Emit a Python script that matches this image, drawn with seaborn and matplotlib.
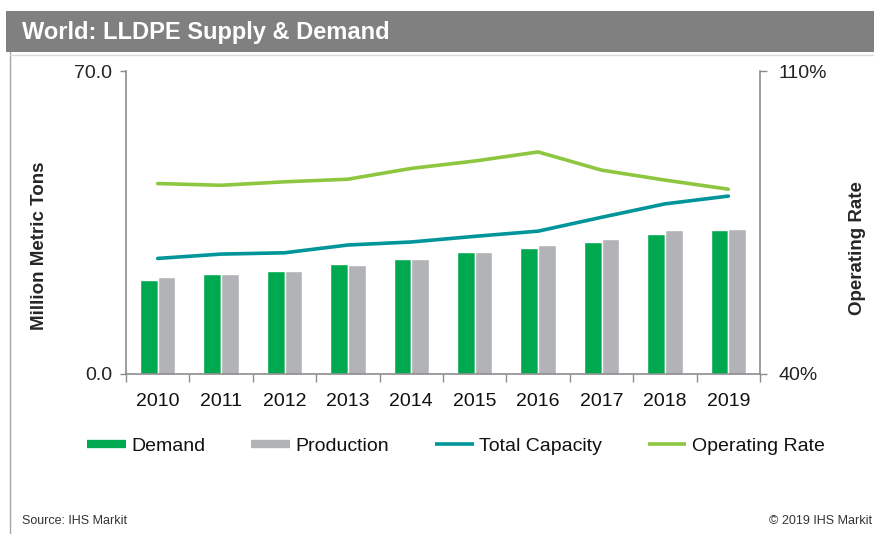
import numpy as np
import pandas as pd
import matplotlib
matplotlib.use("Agg")
import matplotlib.pyplot as plt
from matplotlib.patches import Rectangle
from matplotlib.lines import Line2D
import seaborn as sns

# Data
years = ["2010", "2011", "2012", "2013", "2014", "2015", "2016", "2017", "2018", "2019"]
demand = [21.7, 23.1, 23.7, 25.5, 26.5, 28.1, 29.2, 30.5, 32.3, 33.3]
production = [22.5, 23.1, 23.7, 25.1, 26.5, 28.1, 29.9, 31.2, 33.3, 33.6]
total_capacity = [26.7, 27.7, 28.0, 29.8, 30.5, 31.8, 33.0, 36.2, 39.3, 41.1]
operating_rate = [84.0, 83.6, 84.4, 85.0, 87.5, 89.2, 91.3, 87.1, 84.8, 82.7]

c_demand = "#00A84F"
c_prod = "#B2B3B6"
c_cap = "#00959A"
c_rate = "#8DC63F"
c_axis = "#8C8C8C"

sns.set_theme(style="white")
plt.rcParams["font.family"] = ["Liberation Sans", "DejaVu Sans"]

bars = pd.DataFrame({
    "Year": years * 2,
    "Value": demand + production,
    "Series": ["Demand"] * len(years) + ["Production"] * len(years),
})

fig = plt.figure(figsize=(8.74, 5.34), dpi=100)
ax = fig.add_axes([126 / 874, 1 - 374 / 534, (760 - 126) / 874, (374 - 71) / 534])

sns.barplot(data=bars, x="Year", y="Value", hue="Series", order=years,
            palette=[c_demand, c_prod], width=0.56, saturation=1,
            ax=ax, legend=False)
pos = np.arange(len(years))
sns.lineplot(x=pos, y=total_capacity, color=c_cap, linewidth=2.6, ax=ax)

ax2 = ax.twinx()
sns.lineplot(x=pos, y=operating_rate, color=c_rate, linewidth=2.6, ax=ax2)

ax.set_xlim(-0.5, len(years) - 0.5)
ax.set_ylim(0, 70)
ax2.set_ylim(40, 110)
ax.set_yticks([0, 70])
ax.set_yticklabels(["0.0", "70.0"])
ax2.set_yticks([40, 110])
ax2.set_yticklabels(["40%", "110%"])

ax.set_xticks(pos)
ax.set_xticklabels(years)
ax.set_xticks(np.arange(-0.5, len(years)), minor=True)
ax.tick_params(axis="x", which="major", length=0, pad=14, labelsize=14, colors="#111111")
ax.tick_params(axis="x", which="minor", length=6, width=1, color=c_axis, direction="out", bottom=True)
ax.tick_params(axis="y", length=4, width=1, color=c_axis, direction="out", left=True,
               labelsize=14, labelcolor="#222222", pad=6)
ax2.tick_params(axis="y", length=5, width=1, color=c_axis, direction="out", right=True,
                labelsize=14, labelcolor="#222222", pad=8)

ax.set_xlabel("")
ax.set_ylabel("Million Metric Tons", fontsize=13.5, fontweight="bold")
ax2.set_ylabel("Operating Rate", fontsize=13.5, fontweight="bold")
ax.yaxis.set_label_coords((40 - 126) / 634, (374 - 246) / 303)
ax2.yaxis.set_label_coords((857 - 126) / 634, (374 - 248) / 303)
for lab in (ax.yaxis.label, ax2.yaxis.label):
    lab.set_va("center")
    lab.set_ha("center")
    lab.set_rotation(90)

for a in (ax, ax2):
    a.spines["top"].set_visible(False)
    for s in ("left", "right", "bottom"):
        a.spines[s].set_color(c_axis)
        a.spines[s].set_linewidth(1.2)
ax.spines["right"].set_visible(False)
ax2.spines["left"].set_visible(False)
ax2.spines["bottom"].set_visible(False)
ax.grid(False)
ax2.grid(False)

# Legend
handles = [
    Line2D([0], [0], color=c_demand, linewidth=6, solid_capstyle="butt"),
    Line2D([0], [0], color=c_prod, linewidth=6, solid_capstyle="butt"),
    Line2D([0], [0], color=c_cap, linewidth=2.6, solid_capstyle="butt"),
    Line2D([0], [0], color=c_rate, linewidth=2.6, solid_capstyle="butt"),
]
labels = ["Demand", "Production", "Total Capacity", "Operating Rate"]
fig.legend(handles, labels, loc="center", bbox_to_anchor=(456 / 874, 1 - 446 / 534),
           ncol=4, frameon=False, fontsize=14, handlelength=2.0, handletextpad=0.27,
           columnspacing=2.35, labelcolor="#111111")

# Title bar and frame
fig.patches.append(Rectangle((6 / 874, 1 - 52 / 534), 1, 41 / 534, transform=fig.transFigure,
                             facecolor="#808080", edgecolor="none", zorder=0))
fig.text(22 / 874, 1 - 32 / 534, "World: LLDPE Supply & Demand", color="white",
         fontsize=17, fontweight="bold", va="center", ha="left")
fig.add_artist(Line2D([10 / 874, 10 / 874], [0, 1 - 52 / 534], transform=fig.transFigure,
                      color="#A6A6A6", linewidth=1))
fig.add_artist(Line2D([10 / 874, 1], [1 - 55 / 534, 1 - 55 / 534], transform=fig.transFigure,
                      color="#D9D9D9", linewidth=1))

fig.text(22 / 874, 1 - 521 / 534, "Source: IHS Markit", fontsize=9, color="#333333",
         va="center", ha="left")
fig.text(872 / 874, 1 - 521 / 534, "\u00a9 2019 IHS Markit", fontsize=9, color="#333333",
         va="center", ha="right")

fig.savefig("out.png", dpi=100)
